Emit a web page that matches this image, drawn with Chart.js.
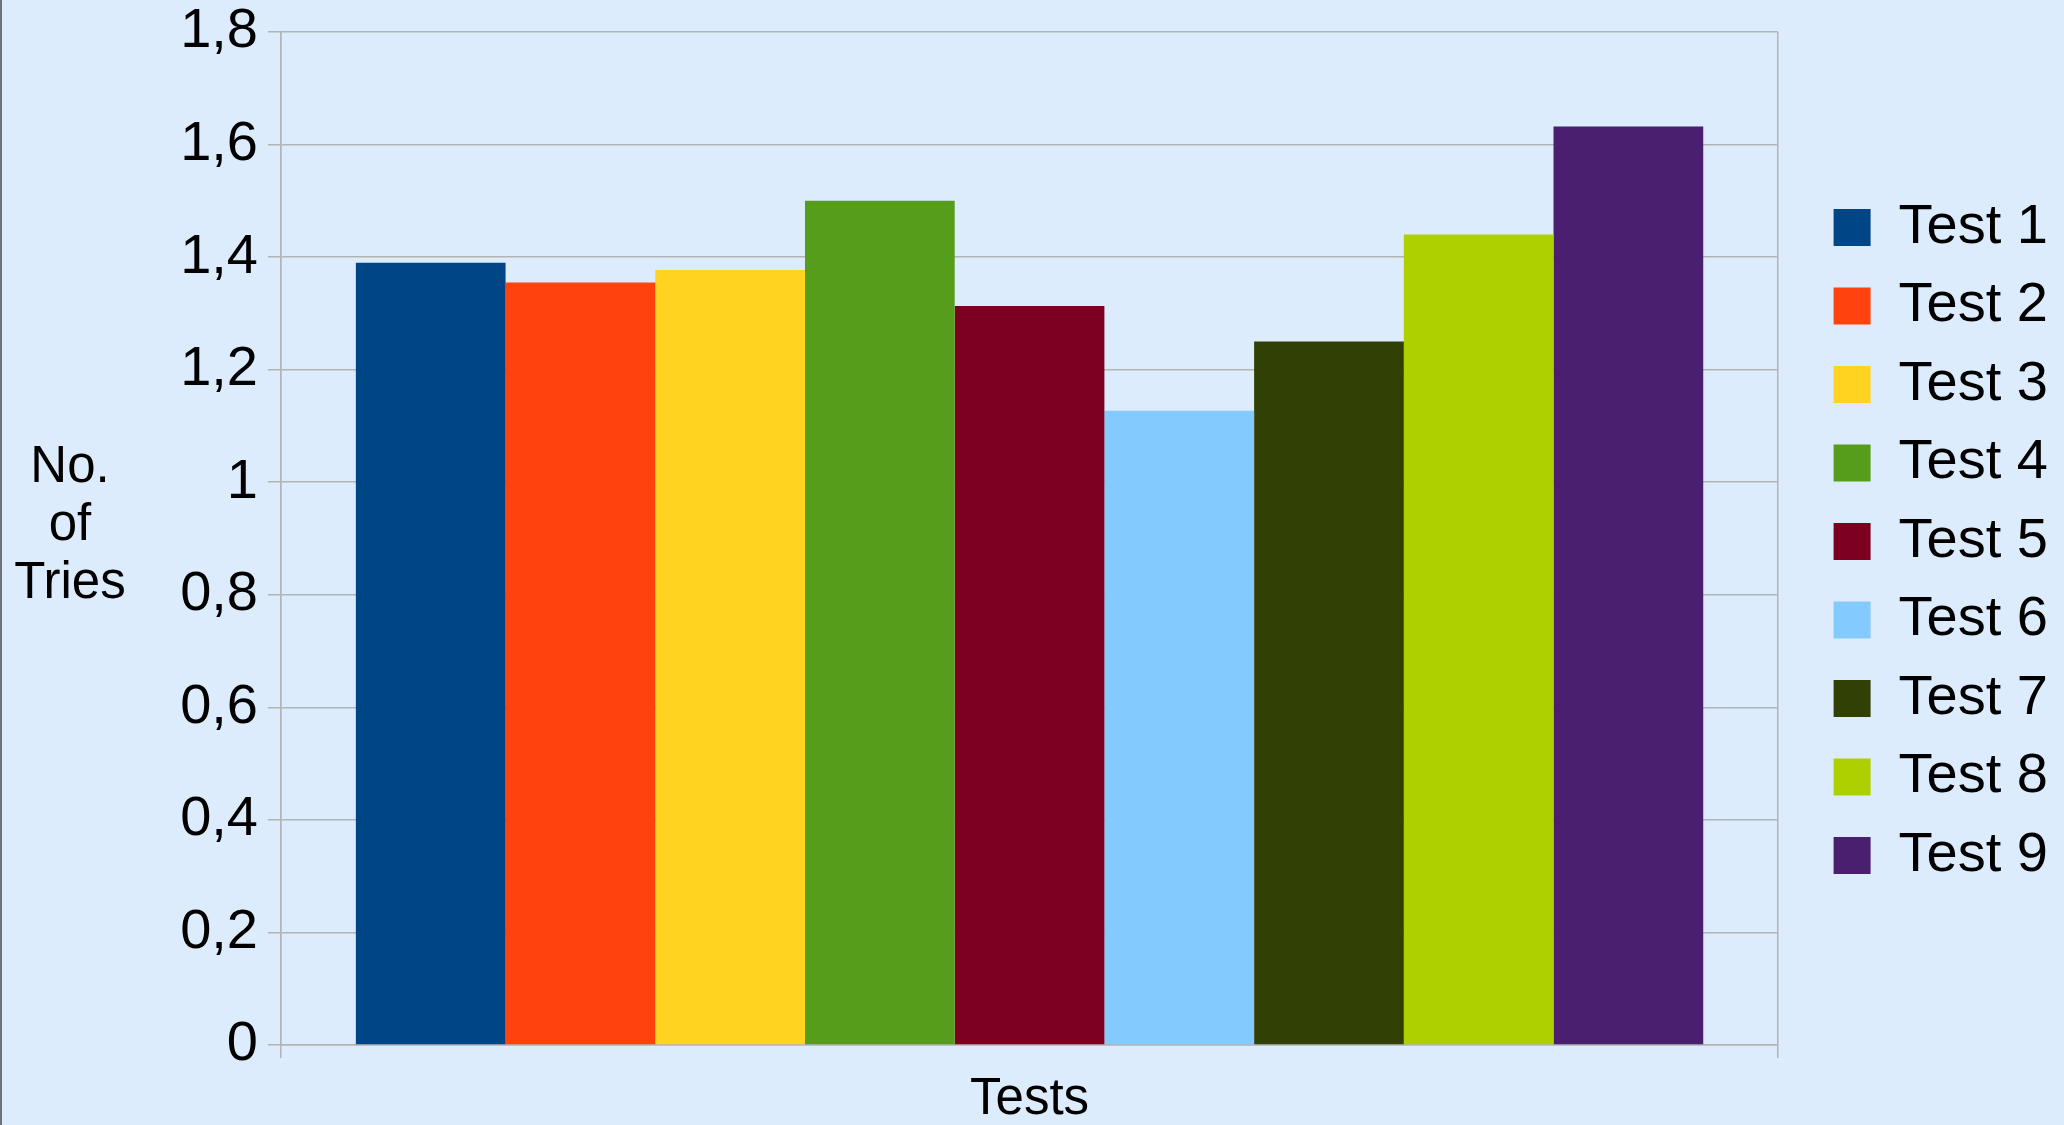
<!DOCTYPE html>
<html>
<head>
<meta charset="utf-8">
<title>No. of Tries per Test</title>
<script src="https://cdn.jsdelivr.net/npm/chart.js@4.4.1/dist/chart.umd.min.js"></script>
<style>
    html, body {
        margin: 0;
        padding: 0;
        background: #ddecfc;
    }
    .chart-wrap {
        position: relative;
        width: 2064px;
        height: 1125px;
    }
    .left-edge {
        position: absolute;
        left: 0;
        top: 0;
        width: 2px;
        height: 1125px;
        background: #6f7278;
    }
</style>
</head>
<body>
<div class="chart-wrap">
    <canvas id="tries-chart" width="2064" height="1125"></canvas>
    <div class="left-edge"></div>
</div>
<script>
// Data grafik
const categories = [''];
const seriesNames = ['Test 1', 'Test 2', 'Test 3', 'Test 4', 'Test 5', 'Test 6', 'Test 7', 'Test 8', 'Test 9'];
const seriesValues = [1.39, 1.355, 1.377, 1.50, 1.313, 1.127, 1.25, 1.44, 1.632];
const seriesColors = ['#004586', '#ff420e', '#ffd320', '#579d1c', '#7e0021', '#83caff', '#314004', '#aecf00', '#4b1f6f'];
const yTitleLines = ['No.', 'of', 'Tries'];
const xTitle = 'Tests';
const yMin = 0;
const yMax = 1.8;
const yStep = 0.2;

const gridColor = '#b3b3b3';
const fontFamily = '"Liberation Sans", Arial, sans-serif';

document.addEventListener('DOMContentLoaded', function() {
    setupChart();
});

// Judul sumbu Y ditulis mendatar, seperti di gambar asli
const yTitlePlugin = {
    id: 'yTitle',
    afterDraw(chart) {
        const ctx = chart.ctx;
        const area = chart.chartArea;
        const mid = (area.top + area.bottom) / 2;
        ctx.save();
        ctx.fillStyle = '#000';
        ctx.font = '51px ' + fontFamily;
        ctx.textAlign = 'center';
        ctx.textBaseline = 'alphabetic';
        yTitleLines.forEach((line, i) => {
            ctx.fillText(line, 70, mid + 1 + (i - 1) * 58);
        });
        ctx.restore();
    }
};

function setupChart() {
    const ctx = document.getElementById('tries-chart').getContext('2d');

    const datasets = seriesNames.map((name, i) => ({
        label: name,
        data: [seriesValues[i]],
        backgroundColor: seriesColors[i],
        borderWidth: 0,
        categoryPercentage: 0.9,
        barPercentage: 1.0
    }));

    new Chart(ctx, {
        type: 'bar',
        data: {
            labels: categories,
            datasets: datasets
        },
        options: {
            responsive: false,
            animation: false,
            layout: {
                padding: { top: 32, right: 6, bottom: 0, left: 0 }
            },
            plugins: {
                legend: {
                    position: 'right',
                    align: 'start',
                    title: {
                        display: true,
                        text: ' ',
                        font: { size: 10 },
                        padding: { top: 0, bottom: 133 }
                    },
                    labels: {
                        color: '#000',
                        boxWidth: 37,
                        boxHeight: 37,
                        padding: 22.5,
                        font: { family: fontFamily, size: 56 }
                    }
                },
                tooltip: { enabled: false }
            },
            scales: {
                x: {
                    grid: {
                        color: gridColor,
                        lineWidth: 1.5,
                        tickLength: 13
                    },
                    border: { color: gridColor, width: 1.5 },
                    ticks: { display: false },
                    title: {
                        display: true,
                        text: xTitle,
                        color: '#000',
                        font: { family: fontFamily, size: 51, lineHeight: 1 },
                        padding: { top: 0, bottom: 0 }
                    },
                    afterFit: function(scale) {
                        scale.height = 80;
                    }
                },
                y: {
                    min: yMin,
                    max: yMax,
                    grid: {
                        color: gridColor,
                        lineWidth: 1.5,
                        tickLength: 13
                    },
                    border: { color: gridColor, width: 1.5 },
                    ticks: {
                        stepSize: yStep,
                        padding: 10,
                        color: '#000',
                        font: { family: fontFamily, size: 56, lineHeight: 0.75 },
                        callback: function(value) {
                            return String(+value.toFixed(1)).replace('.', ',');
                        }
                    },
                    afterFit: function(scale) {
                        scale.width = 281;
                    }
                },
                // sumbu kosong, hanya memberi jarak antara plot dan legenda
                gap: {
                    type: 'linear',
                    position: 'right',
                    grid: { display: false },
                    border: { display: false },
                    ticks: { display: false },
                    afterFit: function(scale) {
                        scale.width = 33;
                    }
                }
            }
        },
        plugins: [yTitlePlugin]
    });
}
</script>
</body>
</html>
